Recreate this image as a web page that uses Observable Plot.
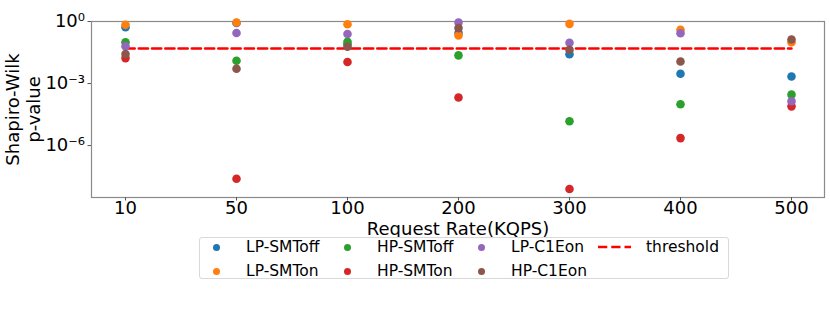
<!DOCTYPE html>
<html>
<head>
<meta charset="utf-8">
<script src="https://cdn.jsdelivr.net/npm/d3@7"></script>
<script src="https://cdn.jsdelivr.net/npm/@observablehq/plot@0.6"></script>
<style>
  html, body { margin: 0; padding: 0; background: #fff; }
  #wrap { position: relative; width: 830px; height: 332px; font-family: "DejaVu Sans", sans-serif; }
  #legend { position: absolute; left: 199px; top: 237px; width: 530px; height: 42px;
            border: 1px solid #d9d9d9; border-radius: 3px; box-sizing: border-box; background: #fff; }
  .item { position: absolute; font-size: 15.5px; line-height: 16px; color: #000; white-space: nowrap; }
  .sw { position: absolute; }
</style>
</head>
<body>
<div id="wrap"></div>
<script>
// ---- data ----
const rates = ["10", "50", "100", "200", "300", "400", "500"];
const seriesNames = ["LP-SMToff", "LP-SMTon", "HP-SMToff", "HP-SMTon", "LP-C1Eon", "HP-C1Eon"];
const seriesColors = ["#1f77b4", "#ff7f0e", "#2ca02c", "#d62728", "#9467bd", "#8c564b"];
const lpSmtOff = [0.53, 0.85, 0.078, 0.28, 0.026, 0.003, 0.0022];
const lpSmtOn  = [0.69, 0.9, 0.74, 0.21, 0.77, 0.4, 0.1];
const hpSmtOff = [0.1, 0.0126, 0.105, 0.023, 1.5e-5, 1e-4, 2.9e-4];
const hpSmtOn  = [0.017, 2.5e-8, 0.011, 2.1e-4, 7.9e-9, 2.3e-6, 7.9e-5];
const lpC1Eon  = [0.064, 0.28, 0.25, 0.9, 0.093, 0.27, 1.4e-4];
const hpC1Eon  = [0.027, 0.0052, 0.06, 0.48, 0.043, 0.0117, 0.135];
const threshold = 0.05;
const yTicks = [1, 1e-3, 1e-6];

const seriesValues = [lpSmtOff, lpSmtOn, hpSmtOff, hpSmtOn, lpC1Eon, hpC1Eon];
const points = seriesNames.flatMap((name, i) =>
  seriesValues[i].map((v, j) => ({series: name, rate: rates[j], p: v})));
const thresholdLine = [rates[0], rates[rates.length - 1]].map(r => ({rate: r, p: threshold}));

const supMap = {"-": "⁻", "0": "⁰", "1": "¹", "2": "²", "3": "³", "4": "⁴", "5": "⁵", "6": "⁶", "7": "⁷", "8": "⁸", "9": "⁹"};
const sup = n => String(n).split("").map(c => supMap[c]).join("");

const chart = Plot.plot({
  width: 830,
  height: 332,
  marginLeft: 91,
  marginRight: 6,
  marginTop: 21,
  marginBottom: 135,
  style: {fontFamily: "DejaVu Sans", fontSize: "18px", background: "white", color: "black"},
  x: {type: "point", domain: rates, padding: 0.3, label: null},
  y: {type: "log", domain: [Math.pow(10, -8.51), 1], label: null},
  color: {domain: seriesNames, range: seriesColors},
  marks: [
    Plot.frame({stroke: "#8a8a8a", strokeWidth: 1.2}),
    Plot.axisX({tickSize: 3.5, tickPadding: 0.5, fontSize: 18, stroke: "#555", label: null, fill: "black"}),
    Plot.axisY({ticks: yTicks, tickFormat: d => "10" + sup(Math.round(Math.log10(d))), tickSize: 3.5, tickPadding: 3,
                fontSize: 18, stroke: "#555", label: null, fill: "black"}),
    Plot.line(thresholdLine, {x: "rate", y: "p", stroke: "#ff0000", strokeWidth: 2.5, strokeDasharray: "9.25,4"}),
    Plot.dot(points, {x: "rate", y: "p", fill: "series", r: 4.3}),
    Plot.text(["Request Rate(KQPS)"], {frameAnchor: "bottom", dy: 37, fontSize: 18, fill: "black"}),
    Plot.text(["Shapiro-Wilk\np-value"], {frameAnchor: "left", textAnchor: "middle", dx: -69, rotate: -90,
                fontSize: 18, lineHeight: 1.17, fill: "black"})
  ]
});
const wrap = document.getElementById("wrap");
wrap.appendChild(chart);

// ---- legend (4 columns, column-major like matplotlib) ----
const legend = document.createElement("div");
legend.id = "legend";
wrap.appendChild(legend);
const legendEntries = seriesNames.map((n, i) => ({name: n, color: seriesColors[i], kind: "dot"}))
  .concat([{name: "threshold", color: "#ff0000", kind: "line"}]);
const colX = [0, 131, 265, 382];     // column offsets in px inside legend
const rowY = [9, 33];                  // row centers
legendEntries.forEach((e, k) => {
  const col = Math.floor(k / 2), row = k % 2;
  const sw = document.createElement("div");
  sw.className = "sw";
  if (e.kind === "dot") {
    sw.style.cssText = `left:${colX[col] + 13}px;top:${rowY[row] - 3.5}px;width:7px;height:7px;border-radius:50%;background:${e.color}`;
  } else {
    sw.style.cssText = `left:${colX[col] + 16}px;top:${rowY[row] - 2}px;`;
    sw.innerHTML = `<svg width="33" height="4" style="display:block"><line x1="0" y1="2" x2="33" y2="2" stroke="${e.color}" stroke-width="2.5" stroke-dasharray="9.25,4"/></svg>`;
  }
  legend.appendChild(sw);
  const t = document.createElement("div");
  t.className = "item";
  t.textContent = e.name;
  t.style.left = `${colX[col] + (e.kind === "dot" ? 46 : 64)}px`;
  t.style.top = `${rowY[row] - 8}px`;
  legend.appendChild(t);
});
</script>
</body>
</html>
